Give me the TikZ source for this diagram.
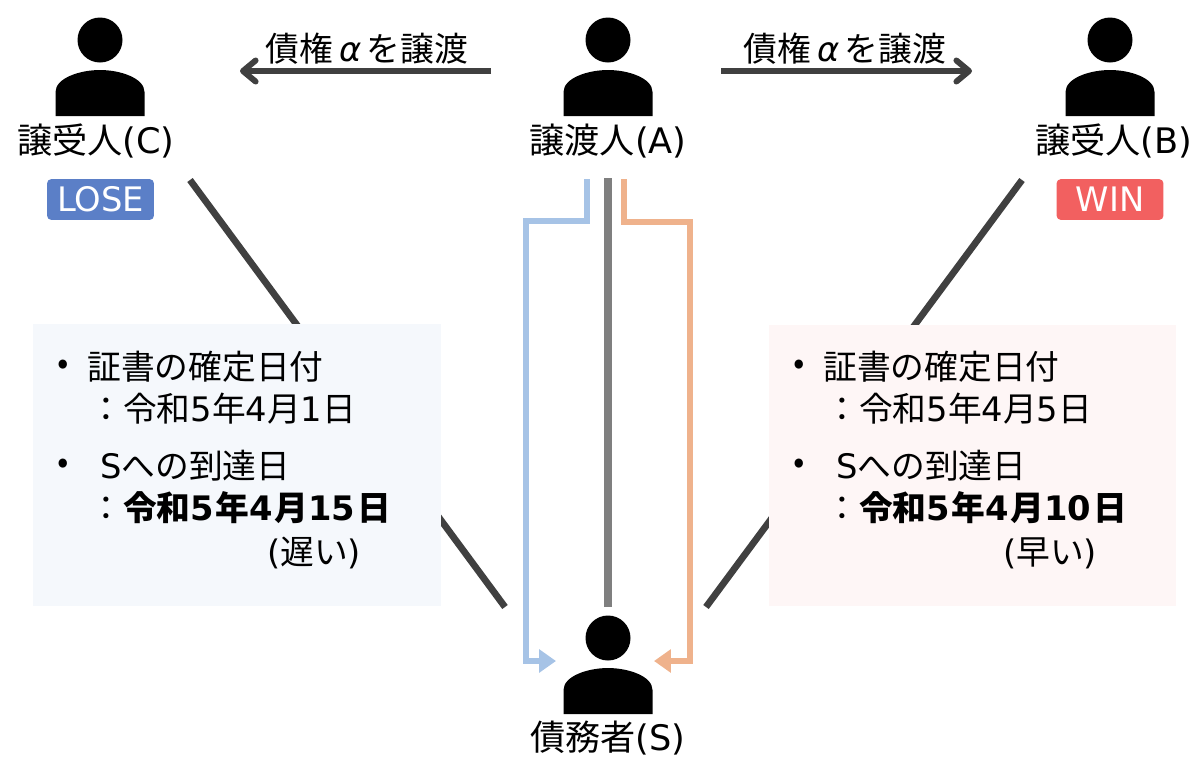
\documentclass[tikz,border=0pt]{standalone}
\usepackage{fontspec}
\usepackage{xcolor}
\setmainfont{Noto Sans CJK JP}
\newfontfamily\latn{DejaVu Sans}
\usetikzlibrary{arrows.meta}
\definecolor{darkline}{HTML}{404040}
\definecolor{greyline}{HTML}{7F7F7F}
\definecolor{blueline}{HTML}{A6C3E6}
\definecolor{orangeline}{HTML}{EFB28C}
\newcommand{\lat}[1]{{\latn #1}}
\newcommand{\bnum}[1]{{\latn #1}\kern1.2pt}
\tikzset{
  person/.pic={
    \fill (0,0) circle[radius=22.5];
    \fill (-44.5,76) -- (-44.5,52) .. controls (-44.5,38) and (-20,30) .. (0,30)
      .. controls (20,30) and (44.5,38) .. (44.5,52) -- (44.5,76) -- cycle;
  },
  txt/.style={font=\fontsize{24}{28}\selectfont, inner sep=0pt},
  nametxt/.style={font=\fontsize{25}{28}\selectfont, inner sep=0pt},
  item/.style={txt, anchor=west},
  badge/.style={rounded corners=3pt, minimum width=76pt, minimum height=29pt, inner sep=0pt,
    text=white, font=\fontsize{24}{28}\selectfont\latn},
  infobox/.style={minimum width=290pt, minimum height=200pt, inner sep=0pt},
  darkarrow/.style={darkline, line width=4.2pt, -{Straight Barb[length=9pt,width=15pt,round]}},
  cutline/.style={darkline, line width=4.8pt},
  route/.style={line width=4.2pt},
}
\begin{document}
\begin{tikzpicture}[x=0.025cm,y=-0.025cm]
  \useasboundingbox (0,0) rectangle (1200,759);

  % lines to the debtor, behind the boxes
  \coordinate (cTop) at (190,180);
  \coordinate (cEnd) at (505,607);
  \coordinate (bTop) at (1022,180);
  \coordinate (bEnd) at (706,607);
  \draw[cutline] (cTop) -- (cEnd);
  \draw[cutline] (bTop) -- (bEnd);

  \node[infobox, fill={rgb,255:red,245;green,248;blue,252}] (boxC) at (237,465) {};
  \node[infobox, fill={rgb,255:red,254;green,246;blue,246}] (boxB) at (972.5,465.5) {};

  % people
  \pic (personC) at (100,40) {person};
  \pic (personA) at (608,40) {person};
  \pic (personB) at (1110,40) {person};
  \pic (personS) at (608,638) {person};

  \node[nametxt] (nameC) at (96,141) {譲受人\lat{(C)}};
  \node[nametxt] (nameA) at (608,141) {譲渡人\lat{(A)}};
  \node[nametxt] (nameB) at (1114,141) {譲受人\lat{(B)}};
  \node[nametxt] (nameS) at (608,738) {債務者\lat{(S)}};

  \node[badge, fill={rgb,255:red,91;green,127;blue,199}] (lose) at (100.5,199.5) {LOSE};
  \node[badge, fill={rgb,255:red,242;green,96;blue,96}] (win) at (1110,199.5) {WIN};

  % transfers
  \coordinate (toC0) at (491,71);
  \coordinate (toC1) at (240,71);
  \coordinate (toB0) at (721,71);
  \coordinate (toB1) at (972,71);
  \draw[darkarrow] (toC0) -- (toC1);
  \draw[darkarrow] (toB0) -- (toB1);
  \node[txt] (labelC) at (367,49) {債権{\latn\itshape\,α\,}を譲渡};
  \node[txt] (labelB) at (845,49) {債権{\latn\itshape\,α\,}を譲渡};

  % notices from A to S
  \coordinate (blue0) at (587,179);
  \coordinate (blue1) at (556,661);
  \coordinate (grey0) at (608,178);
  \coordinate (grey1) at (608,607);
  \coordinate (orange0) at (624,179);
  \coordinate (orange1) at (654,661);
  \draw[route, blueline, -{Triangle[length=12pt,width=16pt]}]
    (blue0) -- (587,221) -- (526,221) -- (526,661) -- (blue1);
  \draw[route, orangeline, -{Triangle[length=12pt,width=16pt]}]
    (orange0) -- (624,222) -- (690,222) -- (690,661) -- (orange1);
  \draw[greyline, line width=5pt] (grey0) -- (grey1);

  % left box text
  \node[item] (c1) at (57,367) {•};
  \node[item] (c2) at (87,367) {証書の確定日付};
  \node[item] (c3) at (89,409) {：令和\lat{5}年\lat{4}月\lat{1}日};
  \node[item] (c4) at (57,466) {•};
  \node[item] (c5) at (100,466) {\lat{S}への到達日};
  \node[item] (c6) at (89,508) {：\textbf{令和\bnum{5}年\bnum{4}月\bnum{15}日}};
  \node[item] (c7) at (267,553) {\lat{(}遅い\lat{)}};

  % right box text
  \node[item] (b1) at (793,367) {•};
  \node[item] (b2) at (823,367) {証書の確定日付};
  \node[item] (b3) at (825,409) {：令和\lat{5}年\lat{4}月\lat{5}日};
  \node[item] (b4) at (793,466) {•};
  \node[item] (b5) at (836,466) {\lat{S}への到達日};
  \node[item] (b6) at (825,508) {：\textbf{令和\bnum{5}年\bnum{4}月\bnum{10}日}};
  \node[item] (b7) at (1003,553) {\lat{(}早い\lat{)}};
\end{tikzpicture}
\end{document}
